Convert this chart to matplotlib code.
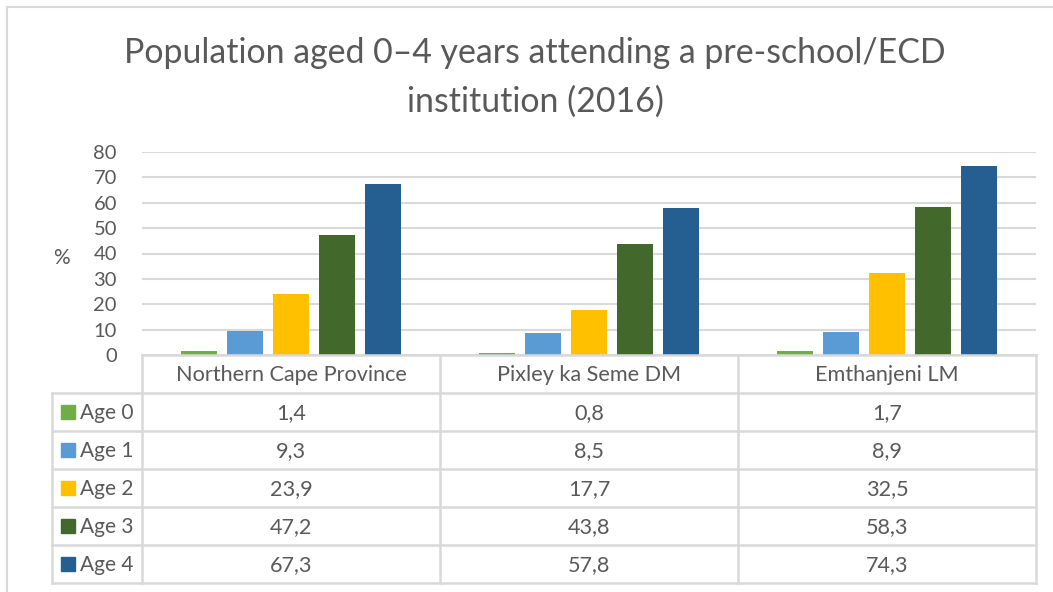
import matplotlib
matplotlib.use("Agg")
import matplotlib.pyplot as plt
from matplotlib.patches import Rectangle
from matplotlib.lines import Line2D

categories = ["Northern Cape Province", "Pixley ka Seme DM", "Emthanjeni LM"]
series_names = ["Age 0", "Age 1", "Age 2", "Age 3", "Age 4"]
age0 = [1.4, 0.8, 1.7]
age1 = [9.3, 8.5, 8.9]
age2 = [23.9, 17.7, 32.5]
age3 = [47.2, 43.8, 58.3]
age4 = [67.3, 57.8, 74.3]
series_values = [age0, age1, age2, age3, age4]
colors = ["#70AD47", "#5B9BD5", "#FFC000", "#43682B", "#255E91"]
yticks = [0, 10, 20, 30, 40, 50, 60, 70, 80]
title_lines = ["Population aged 0\u20134 years attending a pre-school/ECD",
               "institution (2016)"]

TXT = "#595959"
GRID = "#D9D9D9"
FONT = "Lato"
plt.rcParams["font.family"] = [FONT, "DejaVu Sans"]

W, H = 1053, 592
fig = plt.figure(figsize=(W / 100, H / 100), dpi=100)

def fx(px):
    return px / W

def fy(py):
    return 1 - py / H

# chart border (left/top visible)
fig.add_artist(Line2D([fx(7), fx(7)], [fy(7), fy(600)], color=GRID, lw=1.5))
fig.add_artist(Line2D([fx(7), fx(1060)], [fy(7), fy(7)], color=GRID, lw=1.5))

# main axes
L, R = 142, 1036
top, bot = 152, 355
ax = fig.add_axes([fx(L), fy(bot), fx(R - L), (bot - top) / H])
ncat = len(categories)
ax.set_xlim(-0.5, ncat - 0.5)
ax.set_ylim(0, 80)
bw = 36 / 298
step = 46 / 298
for i, (name, vals, c) in enumerate(zip(series_names, series_values, colors)):
    xs = [k + (i - 2) * step for k in range(ncat)]
    ax.bar(xs, vals, width=bw, color=c, label=name, zorder=3)
ax.set_yticks(yticks)
ax.set_yticklabels([str(t) for t in yticks])
ax.tick_params(axis="y", length=0, labelsize=14.5, colors=TXT, pad=18)
ax.set_xticks([])
for s in ax.spines.values():
    s.set_visible(False)
ax.grid(axis="y", color=GRID, lw=1.5, zorder=0)
ax.set_axisbelow(True)
fig.text(fx(61), fy(258), "%", ha="center", va="center", fontsize=15, color=TXT)

# title
fig.text(fx(535), fy(63), title_lines[0], ha="center", va="baseline", fontsize=24.4,
         color=TXT)
fig.text(fx(535), fy(112), title_lines[1], ha="center", va="baseline", fontsize=24.4,
         color=TXT)

# data table
tL = 52
row_h = 38
nrows = len(series_names) + 1
tab = fig.add_axes([fx(tL), fy(bot + row_h * nrows), fx(R - tL), row_h * nrows / H])
leg_w = (L - tL) / 298.0
tab.set_xlim(-0.5 - leg_w, ncat - 0.5)
tab.set_ylim(nrows, 0)
tab.axis("off")
lk = dict(color=GRID, lw=1.8, clip_on=False, solid_capstyle="projecting")
# horizontal lines
tab.plot([-0.5, ncat - 0.5], [0, 0], **lk)
for r in range(1, nrows + 1):
    tab.plot([-0.5 - leg_w, ncat - 0.5], [r, r], **lk)
# vertical lines
tab.plot([-0.5 - leg_w, -0.5 - leg_w], [1, nrows], **lk)
for k in range(ncat + 1):
    tab.plot([k - 0.5, k - 0.5], [0, nrows], **lk)
for k, cat in enumerate(categories):
    tab.text(k, 0.52, cat, ha="center", va="center", fontsize=15.6, color=TXT)
for i, (name, vals, c) in enumerate(zip(series_names, series_values, colors)):
    y = i + 1.5
    for k, v in enumerate(vals):
        tab.text(k, y + 0.02, f"{v:.1f}".replace(".", ","), ha="center", va="center",
                 fontsize=15.6, color=TXT)
    sq = 14 / 298
    tab.add_patch(Rectangle((-0.5 - leg_w + 9 / 298, y - 0.19), sq, 0.37,
                            color=c, clip_on=False))
    tab.text(-0.5 - leg_w + 28 / 298, y + 0.02, name, ha="left", va="center",
             fontsize=15, color=TXT)

fig.savefig("out.png", dpi=100, facecolor="white")
